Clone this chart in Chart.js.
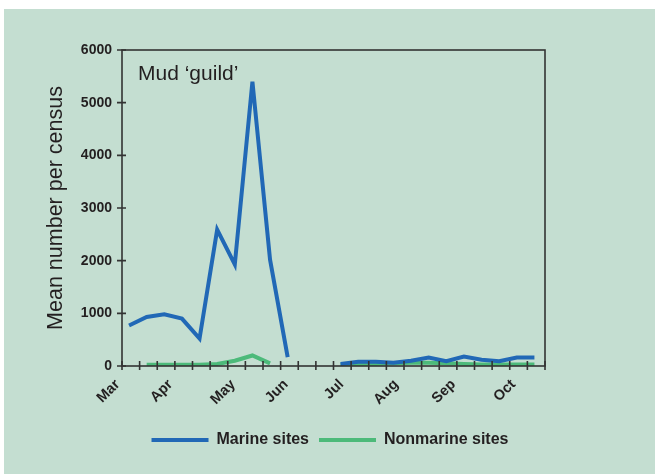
<!DOCTYPE html>
<html>
<head>
<meta charset="utf-8">
<script src="https://cdn.jsdelivr.net/npm/chart.js@4.4.0/dist/chart.umd.min.js"></script>
<style>
  html, body { margin: 0; padding: 0; background: #fff; }
  #wrap { width: 655px; height: 474px; }
</style>
</head>
<body>
<div id="wrap"><canvas id="chart" width="655" height="474"></canvas></div>
<script>
// ten-day periods from start of March to end of October (24 periods)
const periodCount = 24;
const periodMid = Array.from({ length: periodCount }, (_, i) => i + 0.4);

// mean number per census
const marine = [770, 930, 980, 900, 520, 2590, 1930, 5400, 2020, 170,
                null, null,
                40, 80, 80, 60, 100, 160, 90, 180, 120, 90, 160, 160];
const nonmarine = [null, 25, 25, 25, 25, 40, 100, 200, 50, null,
                   null, null,
                   20, 30, 40, 50, 60, 60, 50, 40, 30, 30, 30, 30];

const monthNames = ['Mar', 'Apr', 'May', 'Jun', 'Jul', 'Aug', 'Sep', 'Oct'];
const monthPos = [-0.25, 2.75, 6.3, 9.3, 12.45, 15.55, 18.8, 22.2];
const yTicks = [0, 1000, 2000, 3000, 4000, 5000, 6000];

const FONT = '"Liberation Sans", Arial, sans-serif';
const INK = '#231f20';

const toPoints = (vals) => vals.map((v, i) => ({ x: periodMid[i], y: v }));

// panel background, frame, crossing tick marks and the caption
const framePlugin = {
  id: 'frame',
  beforeDraw(chart) {
    const ctx = chart.ctx;
    ctx.save();
    ctx.fillStyle = '#c4ded1';
    ctx.fillRect(4, 9, chart.width - 4, chart.height - 9);
    ctx.restore();
  },
  afterDraw(chart) {
    const { ctx, chartArea: a, scales } = chart;
    ctx.save();
    ctx.strokeStyle = '#333';
    ctx.lineWidth = 1.6;
    ctx.strokeRect(a.left, a.top, a.right - a.left, a.bottom - a.top);
    ctx.beginPath();
    for (let i = 0; i <= periodCount; i++) {
      const px = scales.x.getPixelForValue(i);
      ctx.moveTo(px, a.bottom - 5);
      ctx.lineTo(px, a.bottom + 4);
    }
    yTicks.forEach(v => {
      const py = scales.y.getPixelForValue(v);
      ctx.moveTo(a.left - 5, py);
      ctx.lineTo(a.left + 4, py);
    });
    ctx.stroke();
    ctx.fillStyle = INK;
    ctx.font = '21px ' + FONT;
    ctx.textBaseline = 'alphabetic';
    ctx.fillText('Mud \u2018guild\u2019', a.left + 16, a.top + 30);
    ctx.restore();
  }
};

new Chart(document.getElementById('chart'), {
  type: 'line',
  data: {
    datasets: [
      {
        label: 'Marine sites',
        data: toPoints(marine),
        borderColor: '#2168b6',
        backgroundColor: '#2168b6',
        borderWidth: 4,
        pointRadius: 0,
        tension: 0,
        spanGaps: false
      },
      {
        label: 'Nonmarine sites',
        data: toPoints(nonmarine),
        borderColor: '#4cba7a',
        backgroundColor: '#4cba7a',
        borderWidth: 4,
        pointRadius: 0,
        tension: 0,
        spanGaps: false
      }
    ]
  },
  options: {
    responsive: false,
    animation: false,
    layout: { padding: { top: 50, right: 0, left: 5, bottom: 16 } },
    plugins: {
      tooltip: { enabled: false },
      legend: {
        position: 'bottom',
        labels: {
          boxWidth: 57,
          boxHeight: 4,
          padding: 10,
          color: INK,
          font: { family: FONT, size: 16, weight: 'bold' },
          generateLabels(chart) {
            return Chart.defaults.plugins.legend.labels.generateLabels(chart)
              .map(l => Object.assign(l, { lineWidth: 0, fillStyle: l.strokeStyle }));
          }
        }
      }
    },
    scales: {
      x: {
        type: 'linear',
        min: 0,
        max: periodCount,
        grid: { display: false, drawTicks: false },
        border: { display: false },
        afterBuildTicks(axis) {
          axis.ticks = monthPos.map(v => ({ value: v }));
        },
        afterFit(axis) { axis.height = 56; },
        ticks: {
          autoSkip: false,
          minRotation: 45,
          maxRotation: 45,
          padding: 10,
          color: INK,
          font: { family: FONT, size: 14.5, weight: 'bold' },
          callback: (v, i) => monthNames[i]
        }
      },
      y: {
        min: 0,
        max: 6000,
        grid: { display: false, drawTicks: false },
        border: { display: false },
        afterBuildTicks(axis) {
          axis.ticks = yTicks.map(v => ({ value: v }));
        },
        afterFit(axis) { axis.width = 117; },
        ticks: {
          padding: 10,
          color: INK,
          font: { family: FONT, size: 14, weight: 'bold' },
          callback: (v) => String(v)
        },
        title: {
          display: true,
          text: 'Mean number per census',
          color: INK,
          padding: { top: 38, bottom: 0 },
          font: { family: FONT, size: 21.5 }
        }
      },
      // empty right-hand axis: only reserves the space right of the frame
      yRight: {
        position: 'right',
        min: 0,
        max: 6000,
        grid: { display: false, drawTicks: false },
        border: { display: false },
        ticks: { display: false },
        afterFit(axis) { axis.width = 110; }
      }
    }
  },
  plugins: [framePlugin]
});
</script>
</body>
</html>
